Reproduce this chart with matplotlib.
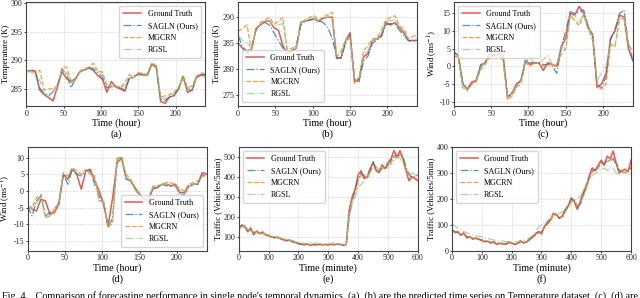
import numpy as np
import matplotlib
matplotlib.use("Agg")
import matplotlib.pyplot as plt

plt.rcParams['font.family'] = ['Liberation Serif', 'DejaVu Serif']
plt.rcParams['mathtext.fontset'] = 'stix'
plt.rcParams['axes.unicode_minus'] = False

# time axes
hours = np.arange(0, 241, 6)
minutes = np.arange(0, 601, 10)

# (a) temperature
a_gt = [288.0, 288.2, 288.1, 284.8, 284.0, 283.5, 282.9, 285.5, 288.0, 286.8, 286.3,
        286.8, 288.0, 288.3, 288.7, 288.2, 287.3, 286.7, 284.4, 286.3, 285.3, 285.0,
        284.6, 286.8, 287.0, 287.7, 287.5, 287.4, 289.3, 289.0, 282.8, 282.5, 283.6,
        283.8, 285.0, 287.2, 284.4, 284.8, 287.0, 287.4, 287.5]
a_sagln = [288.0, 288.2, 288.3, 285.2, 284.2, 283.8, 284.5, 285.8, 288.5, 287.5, 285.2,
           286.8, 288.0, 288.4, 288.6, 288.5, 287.8, 287.0, 285.2, 285.5, 285.5, 285.2,
           284.8, 287.0, 287.2, 287.5, 287.4, 287.3, 289.2, 288.8, 283.2, 283.0, 283.6,
           284.0, 285.0, 287.0, 285.0, 284.5, 287.0, 287.5, 287.4]
a_mgcrn = [288.0, 288.2, 287.8, 288.3, 284.8, 285.0, 285.0, 285.0, 288.8, 288.8, 286.3,
           286.5, 288.2, 288.5, 288.8, 289.5, 288.0, 288.0, 285.5, 285.3, 285.5, 285.3,
           286.0, 287.5, 287.0, 287.8, 287.7, 287.5, 289.4, 289.2, 283.5, 283.8, 284.0,
           284.5, 285.2, 287.3, 285.2, 285.5, 287.2, 287.8, 287.6]
a_rgsl = [288.0, 288.0, 287.2, 286.5, 284.2, 284.0, 284.6, 286.0, 288.3, 287.8, 286.0,
          286.6, 288.0, 288.3, 288.8, 288.7, 288.0, 287.5, 285.8, 285.5, 285.3, 285.2,
          285.5, 286.8, 287.0, 287.5, 287.3, 287.3, 289.0, 289.0, 283.5, 283.3, 283.8,
          284.3, 285.3, 286.8, 285.0, 285.0, 286.8, 287.2, 287.0]

# (b) temperature
b_gt = [285.0, 284.0, 283.0, 283.8, 287.8, 288.5, 289.2, 289.3, 288.0, 287.5, 284.5,
        283.0, 283.5, 284.0, 289.0, 289.3, 289.5, 289.8, 289.2, 289.8, 290.0, 290.0,
        282.0, 282.2, 285.5, 287.0, 277.5, 278.0, 282.3, 283.0, 285.5, 285.8, 286.5,
        289.0, 288.5, 289.0, 288.0, 287.0, 285.5, 285.5, 285.5]
b_sagln = [286.5, 284.2, 283.5, 284.0, 287.5, 288.7, 289.0, 288.5, 287.0, 285.5, 284.0,
           283.3, 283.3, 284.5, 288.5, 289.2, 289.5, 289.6, 289.3, 289.0, 288.0, 286.0,
           282.3, 282.0, 285.0, 286.5, 278.0, 277.5, 281.5, 282.5, 285.0, 285.5, 286.3,
           288.5, 288.8, 288.6, 287.5, 286.5, 285.5, 285.3, 285.5]
b_mgcrn = [287.3, 287.8, 288.5, 283.5, 287.8, 289.0, 289.5, 290.0, 288.7, 289.2, 290.0,
           283.7, 284.0, 284.3, 289.0, 289.5, 290.0, 290.3, 289.5, 290.0, 290.5, 291.0,
           282.3, 283.5, 285.5, 286.0, 277.2, 278.5, 283.5, 284.5, 285.8, 286.0, 287.5,
           289.5, 290.0, 290.3, 288.3, 287.8, 285.8, 286.3, 286.6]
b_rgsl = [286.5, 285.5, 285.0, 284.0, 287.5, 288.8, 289.2, 289.3, 288.3, 288.5, 288.8,
          283.5, 283.7, 284.0, 288.8, 289.3, 289.7, 289.8, 289.4, 289.8, 290.0, 290.2,
          282.5, 283.0, 285.5, 286.2, 278.0, 278.2, 282.8, 283.5, 285.5, 285.8, 287.0,
          289.2, 289.3, 289.5, 288.2, 287.5, 285.8, 285.8, 285.8]

# (c) wind
c_gt = [4.0, 3.0, -5.0, -6.5, -4.5, -4.0, 0.0, 1.0, 3.5, 3.0, 3.5, 3.5, -9.0, -7.5,
        -5.0, -4.0, 1.5, 0.5, 1.0, 1.0, -1.2, 1.0, 0.5, 0.0, 5.5, 8.0, 15.0, 14.5,
        17.0, 15.0, 11.0, 9.0, -6.0, -5.0, -2.0, 8.0, 10.0, 14.5, 14.0, 5.0, 1.5]
c_sagln = [4.0, 3.2, -4.5, -6.5, -5.0, -4.0, 0.5, 1.0, 3.0, 3.0, 3.5, 2.5, -8.5, -8.0,
           -5.5, -4.0, 2.0, 1.0, 1.0, 1.0, 0.5, 0.5, 0.0, -2.0, 5.5, 10.0, 15.5, 15.0,
           15.5, 16.0, 11.5, 8.5, -5.5, -6.0, -3.0, 7.5, 10.5, 15.0, 16.0, 6.0, 1.5]
c_mgcrn = [3.0, 2.5, -6.0, -7.0, -5.0, -4.5, -1.0, 0.5, 2.5, 2.8, 2.5, 2.0, -9.5, -8.5,
           -6.0, -5.0, 1.0, 0.0, 1.0, 0.8, 0.0, 0.5, 0.5, 0.0, 3.5, 5.0, 14.5, 13.0,
           11.5, 14.5, 10.5, 7.5, -6.0, -6.5, -5.0, 6.0, 6.0, 13.0, 14.0, 6.0, 4.5]
c_rgsl = [3.5, 3.0, -5.5, -6.5, -5.5, -4.0, -0.5, 1.5, 3.5, 4.0, 3.0, 1.5, -9.0, -7.5,
          -5.5, -4.5, 1.5, 2.5, 1.0, 1.0, 2.0, 3.0, 0.5, 0.5, 5.5, 5.0, 14.0, 14.5,
          12.5, 15.0, 11.0, 8.5, -4.0, -2.0, 0.0, 6.5, 5.5, 14.0, 14.0, 6.5, 2.5]

# (d) wind
d_gt = [-4.5, -5.5, -6.0, -2.5, -3.0, -7.0, -6.5, -4.0, 5.0, 3.5, 6.5, 5.0, 0.5, 6.0,
        6.5, 3.0, 0.0, -4.0, -10.5, -2.0, 8.5, 9.8, 4.0, 3.0, 1.0, -1.0, -2.5, -3.0,
        1.0, 1.0, 2.0, 2.0, 1.5, 2.0, -0.5, -0.5, 1.5, 2.0, 2.0, 5.5, 5.0]
d_sagln = [-4.5, -7.5, -3.0, -1.5, -7.5, -6.5, -5.5, -3.5, 5.0, 2.0, 6.5, 5.0, 4.5, 6.0,
           6.0, 2.0, -1.5, -4.0, -11.0, -8.0, 9.5, 10.0, 3.5, 3.0, 0.5, -1.5, -2.5, -2.0,
           0.5, 1.0, 2.0, 1.5, 1.5, 1.5, -1.0, -1.0, 1.0, 2.0, 2.0, 4.8, 4.5]
d_mgcrn = [-4.5, -5.0, -2.0, -1.0, -8.0, -7.5, -5.5, -4.0, 5.5, 4.5, 7.0, 6.0, 5.0, 6.5,
           5.0, 4.5, -3.0, -2.8, -11.0, -9.5, 10.0, 10.0, 5.0, 3.5, 1.0, -1.0, -2.5, -2.0,
           1.5, 1.5, 2.0, 2.5, 2.5, 2.0, 0.5, 0.0, 2.0, 2.5, 3.0, 4.5, 4.0]
d_rgsl = [-4.5, -5.5, -3.5, -2.0, -8.0, -7.5, -5.5, -3.5, 5.0, 4.5, 6.5, 5.5, 4.5, 6.0,
          5.5, 3.5, -3.5, -3.5, -10.5, -9.0, 10.0, 9.5, 4.0, 3.0, 0.5, -1.5, -2.5, -2.0,
          1.0, 1.5, 2.0, 2.0, 2.0, 1.5, -1.0, -1.0, 1.5, 2.0, 2.0, 4.5, 4.0]

# (e) traffic
e_gt = [135, 160, 155, 125, 145, 110, 130, 115, 125, 110, 105, 100, 95, 100, 90, 85,
        80, 85, 75, 72, 65, 62, 60, 65, 58, 62, 60, 63, 60, 62, 60, 63, 60, 65, 62, 58,
        62, 235, 300, 340, 410, 430, 390, 400, 440, 470, 430, 420, 460, 440, 470, 490,
        530, 500, 530, 490, 430, 380, 400, 390, 380]
e_sagln = [150, 155, 150, 130, 135, 120, 125, 118, 120, 112, 105, 100, 98, 97, 92, 88,
           83, 82, 78, 73, 68, 64, 62, 63, 62, 62, 61, 62, 62, 62, 61, 62, 62, 63, 62, 60,
           62, 200, 280, 330, 390, 420, 400, 395, 430, 475, 440, 420, 450, 445, 460, 480,
           510, 495, 510, 500, 450, 410, 395, 400, 410]
e_mgcrn = [145, 150, 150, 135, 130, 125, 120, 120, 115, 110, 108, 100, 98, 95, 92, 88,
           85, 82, 80, 75, 70, 65, 63, 62, 62, 62, 62, 63, 62, 62, 62, 62, 63, 62, 62, 62,
           62, 220, 290, 320, 380, 410, 410, 390, 420, 460, 450, 420, 440, 440, 450, 470,
           500, 490, 520, 480, 440, 420, 400, 395, 385]
e_rgsl = [140, 150, 155, 140, 130, 125, 125, 120, 120, 115, 110, 105, 100, 100, 95, 92,
          88, 85, 82, 78, 72, 70, 68, 68, 72, 70, 68, 67, 66, 65, 64, 68, 70, 66, 64, 63,
          62, 200, 260, 300, 350, 360, 380, 400, 420, 440, 450, 440, 450, 470, 470, 460,
          480, 500, 490, 470, 420, 410, 420, 410, 400]

# (f) traffic
f_gt = [85, 70, 75, 60, 70, 50, 55, 45, 50, 45, 40, 35, 38, 30, 35, 25, 30, 28, 25, 35,
        30, 25, 30, 40, 30, 35, 45, 55, 65, 75, 65, 95, 110, 120, 145, 140, 125, 135, 160,
        175, 205, 190, 160, 190, 225, 250, 290, 320, 310, 330, 350, 330, 365, 355, 385,
        340, 300, 310, 315, 305, 350]
f_sagln = [80, 75, 70, 62, 65, 55, 55, 48, 48, 45, 42, 38, 38, 33, 33, 28, 28, 27, 27,
           30, 30, 27, 28, 35, 33, 33, 42, 52, 62, 72, 72, 90, 105, 118, 138, 140, 128,
           130, 155, 170, 200, 195, 170, 180, 215, 245, 280, 310, 310, 320, 340, 335, 350,
           345, 355, 335, 310, 305, 305, 310, 320]
f_mgcrn = [82, 72, 72, 62, 65, 55, 55, 50, 48, 45, 42, 38, 37, 33, 33, 30, 28, 27, 27,
           30, 30, 28, 28, 33, 33, 35, 42, 50, 60, 70, 72, 88, 102, 115, 135, 140, 130,
           130, 152, 168, 195, 195, 175, 180, 210, 240, 275, 305, 310, 320, 335, 340, 345,
           350, 360, 345, 315, 305, 300, 310, 325]
f_rgsl = [105, 95, 88, 80, 75, 70, 65, 62, 58, 55, 55, 50, 48, 45, 42, 40, 38, 38, 36,
          35, 35, 34, 35, 38, 40, 45, 50, 60, 75, 90, 100, 110, 118, 125, 135, 140, 145,
          150, 160, 170, 185, 195, 200, 210, 230, 260, 280, 290, 300, 305, 315, 320, 310,
          320, 320, 300, 290, 300, 310, 300, 290]

names = ['Ground Truth', 'SAGLN (Ours)', 'MGCRN', 'RGSL']
styles = [dict(color='#e8463c', lw=1.1, ls='-', alpha=0.9),
          dict(color='#1f77b4', lw=0.9, ls='-.', alpha=0.8),
          dict(color='#ff7f0e', lw=0.9, ls='--', alpha=0.8),
          dict(color='#8fcf8f', lw=0.9, ls='-.', alpha=0.8)]

panels = [
    (hours, [a_gt, a_sagln, a_mgcrn, a_rgsl], 'Temperature (K)', 'Time (hour)', '(a)',
     'upper right', (282.0, 300.2), [285, 290, 295, 300]),
    (hours, [b_gt, b_sagln, b_mgcrn, b_rgsl], 'Temperature (K)', 'Time (hour)', '(b)',
     'lower left', (272.8, 293.0), [275, 280, 285, 290]),
    (hours, [c_gt, c_sagln, c_mgcrn, c_rgsl], 'Wind (ms$^{-1}$)', 'Time (hour)', '(c)',
     'upper left', (-11.3, 18.3), [-10, -5, 0, 5, 10, 15]),
    (hours, [d_gt, d_sagln, d_mgcrn, d_rgsl], 'Wind (ms$^{-1}$)', 'Time (hour)', '(d)',
     'lower right', (-18.0, 13.3), [-15, -10, -5, 0, 5, 10]),
    (minutes, [e_gt, e_sagln, e_mgcrn, e_rgsl], 'Traffic (Vehicles/5min)', 'Time (minute)', '(e)',
     'upper left', (30, 550), [100, 200, 300, 400, 500]),
    (minutes, [f_gt, f_sagln, f_mgcrn, f_rgsl], 'Traffic (Vehicles/5min)', 'Time (minute)', '(f)',
     'upper left', (0, 402), [0, 100, 200, 300, 400]),
]

# axes boxes in figure fraction
lefts = [0.041, 0.372, 0.709, 0.043, 0.373, 0.706]
bottoms = [0.644, 0.644, 0.644, 0.158, 0.158, 0.158]
width, height = 0.280, 0.350

fig = plt.figure(figsize=(6.4, 2.98), dpi=100)

for i, (x, series, ylab, xlab, tag, loc, ylim, yticks) in enumerate(panels):
    ax = fig.add_axes([lefts[i], bottoms[i], width, height])
    for y, name, st in zip(series, names, styles):
        ax.plot(x, y, label=name, **st)
    ax.set_xlim(x[0], x[-1])
    ax.set_ylim(*ylim)
    ax.set_yticks(yticks)
    if x[-1] > 300:
        ax.set_xticks(range(0, 601, 100))
    else:
        ax.set_xticks(range(0, 201, 50))
    ax.grid(True, color='#d8d8d8', lw=0.5, ls='--')
    ax.set_axisbelow(True)
    for sp in ax.spines.values():
        sp.set_color('#444444')
        sp.set_linewidth(0.8)
    ax.tick_params(labelsize=5.8, length=1.5, width=0.6, pad=1, colors='#222222')
    ax.set_ylabel(ylab, fontsize=6.3, labelpad=0.8)
    ax.set_xlabel(xlab, fontsize=7.2, labelpad=0.6)
    ax.legend(loc=loc, fontsize=5.8, frameon=True, edgecolor='#cccccc',
              handlelength=2.2, labelspacing=0.5, borderpad=0.5)
    fig.text(lefts[i] + width / 2, bottoms[i] - 0.094, tag, ha='center', va='center',
             fontsize=7.5)

# justified caption line, clipped at the bottom edge
fig.text(0.003, -0.002,
         "Fig. 4.   Comparison of forecasting performance in single node's temporal dynamics.",
         ha='left', va='baseline', fontsize=7.3)
fig.text(0.997, -0.002,
         "(a), (b) are the predicted time series on Temperature dataset, (c), (d) are",
         ha='right', va='baseline', fontsize=7.3)

fig.savefig('out.png', dpi=100)
